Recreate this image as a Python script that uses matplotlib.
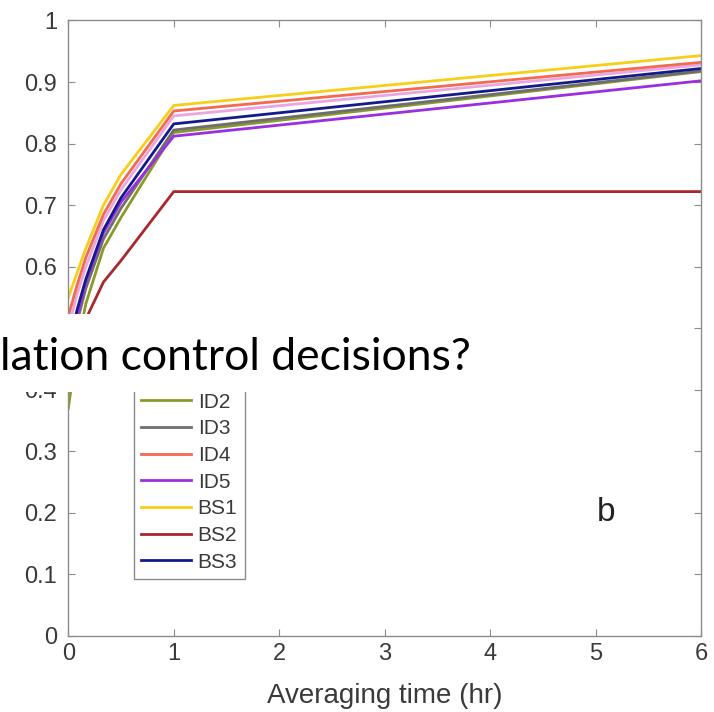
import matplotlib
matplotlib.use("Agg")
import matplotlib.pyplot as plt
from matplotlib.patches import Rectangle

# ---- data ----
hours = [0, 1/12, 1/6, 1/3, 1/2, 1, 6]
series_names = ["ID1", "ID2", "ID3", "ID4", "ID5", "BS1", "BS2", "BS3"]
ID1 = [0.50, 0.555, 0.600, 0.675, 0.725, 0.845, 0.928]
ID2 = [0.37, 0.470, 0.540, 0.630, 0.680, 0.818, 0.917]
ID3 = [0.44, 0.510, 0.565, 0.645, 0.695, 0.822, 0.918]
ID4 = [0.52, 0.570, 0.615, 0.685, 0.735, 0.853, 0.932]
ID5 = [0.46, 0.520, 0.575, 0.655, 0.705, 0.812, 0.902]
BS1 = [0.55, 0.590, 0.630, 0.700, 0.750, 0.862, 0.943]
BS2 = [0.41, 0.470, 0.515, 0.575, 0.610, 0.722, 0.722]
BS3 = [0.47, 0.530, 0.580, 0.660, 0.712, 0.832, 0.922]
series_values = [ID1, ID2, ID3, ID4, ID5, BS1, BS2, BS3]
series_colors = ["#e9a6e0", "#8a9a2a", "#6e6e6e", "#f26a4f",
                 "#9b2fe0", "#f5cf1a", "#a8282c", "#141a8a"]
xticks = [0, 1, 2, 3, 4, 5, 6]
yticks = [0, 0.1, 0.2, 0.3, 0.4, 0.5, 0.6, 0.7, 0.8, 0.9, 1.0]
ytick_labels = ["0", "0.1", "0.2", "0.3", "0.4", "0.5", "0.6", "0.7", "0.8", "0.9", "1"]
xlabel = "Averaging time (hr)"
panel_label = "b"
overlay_text = "lation control decisions?"

plt.rcParams["font.family"] = ["Liberation Sans", "DejaVu Sans"]

fig = plt.figure(figsize=(7.14, 7.12), dpi=100)
ax = fig.add_axes([68.3/714, 76/712, 632.7/714, 615.5/712])

for name, vals, col in zip(series_names, series_values, series_colors):
    ax.plot(hours, vals, color=col, lw=2.0, label=name)

ax.set_xlim(0, 6)
ax.set_ylim(0, 1)
ax.set_xticks(xticks)
ax.set_xticklabels([str(t) for t in xticks])
ax.set_yticks(yticks)
ax.set_yticklabels(ytick_labels)
ax.tick_params(direction="in", length=5, width=0.8, color="#8c8c8c",
               labelsize=17, labelcolor="#3a3a3a", top=True, right=True)
ax.tick_params(axis="y", pad=8)
ax.tick_params(axis="x", pad=5)
for s in ax.spines.values():
    s.set_color("#8c8c8c")
    s.set_linewidth(1.0)
ax.set_xlabel(xlabel, fontsize=20, color="#3a3a3a", labelpad=13)

ax.text(5.1, 0.20, panel_label, fontsize=24, color="#222222",
        ha="center", va="center")

leg = ax.legend(loc="lower left", bbox_to_anchor=(0.104, 0.0925),
                borderaxespad=0, fontsize=15, fancybox=False,
                edgecolor="#8c8c8c", handlelength=2.4, handletextpad=0.3,
                labelspacing=0.37, borderpad=0.35, framealpha=1)
leg.get_frame().set_linewidth(1.0)
for t in leg.get_texts():
    t.set_color("#3a3a3a")

# white overlay box with slide text
fig.add_artist(Rectangle((0, (712-392)/712), 690/714, 78/712,
                         transform=fig.transFigure, facecolor="white",
                         edgecolor="none", zorder=10))
fig.text(0.0, (712-370)/712, overlay_text, fontsize=32,
         family=["Lato", "DejaVu Sans"], color="black",
         ha="left", va="baseline", zorder=11)

fig.savefig("out.png", dpi=100)
